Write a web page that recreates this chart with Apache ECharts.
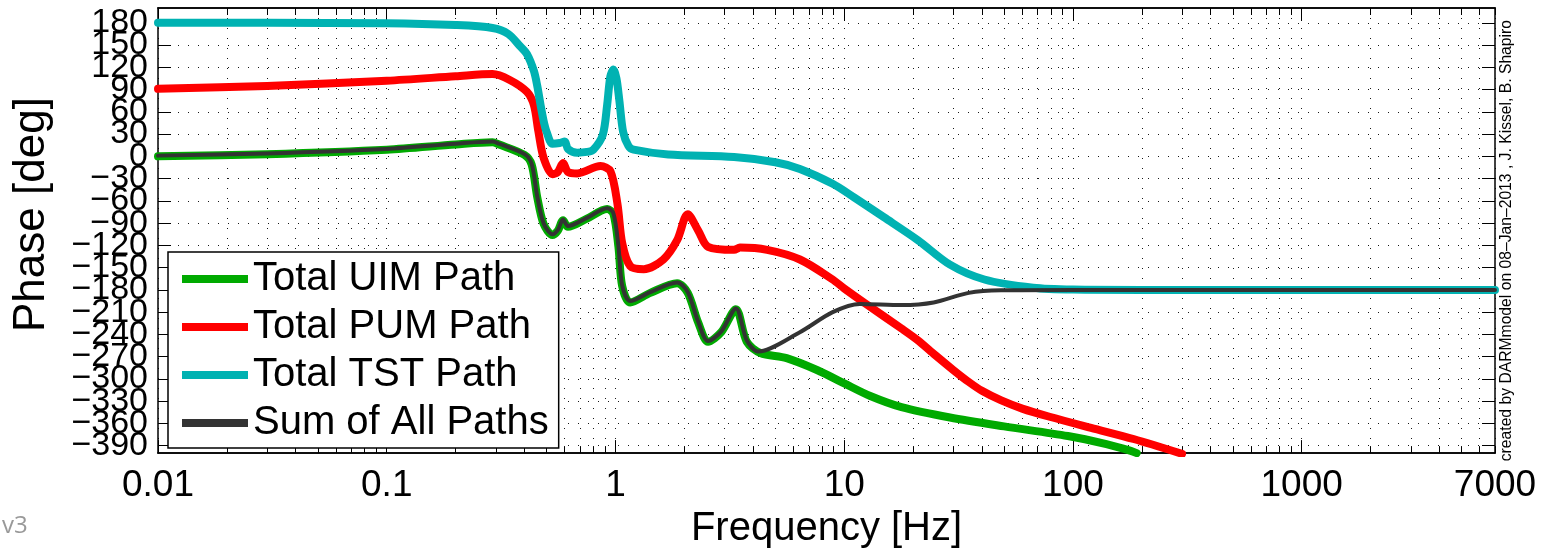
<!DOCTYPE html>
<html>
<head>
<meta charset="utf-8">
<script src="https://cdn.jsdelivr.net/npm/echarts@6/dist/echarts.min.js"></script>
<style>
html,body{margin:0;padding:0;background:#fff;}
#chart{width:1547px;height:554px;}
</style>
</head>
<body>
<div id="chart"></div>
<script>
// ---- Data (frequency in Hz, phase in degrees) ----
const freqUIM  = [0.01,0.03,0.1,0.2,0.29,0.31,0.4,0.43,0.455,0.485,0.53,0.56,0.59,0.62,0.75,0.92,0.98,1.03,1.07,1.16,1.42,1.86,2.07,2.3,2.54,2.9,3.36,3.75,4.3,5.6,7.6,10,13,17.8,29,50,95,140,179,190];
const phaseUIM = [0,3,9,16,19,16,2,-11,-55,-91,-106,-100,-86,-95,-84,-71,-78,-122,-175,-197,-184,-171,-184,-224,-250,-237,-206,-250,-265,-272,-288,-306,-323,-338,-352,-364,-377,-388,-397,-400];

const freqPUM  = [0.01,0.03,0.1,0.2,0.29,0.345,0.41,0.44,0.46,0.485,0.53,0.56,0.59,0.62,0.68,0.86,0.95,1.02,1.07,1.16,1.33,1.62,1.86,2.07,2.3,2.54,3.3,3.5,4.6,6.4,8.9,10,12.6,17.8,21,25,30,35,40,48.6,60,79,120,184,300];
const phasePUM = [91,95,102,108,111,103,87,69,34,-2,-24,-21,-9,-21,-23,-13,-20,-64,-117,-148,-152,-139,-113,-78,-100,-122,-126,-123,-126,-139,-166,-178,-200,-232,-248,-268,-288,-304,-316,-329,-340,-351,-366,-381,-401];

const freqTST  = [0.01,0.03,0.1,0.2,0.29,0.34,0.384,0.41,0.44,0.455,0.47,0.485,0.5,0.53,0.57,0.6,0.62,0.68,0.75,0.8,0.88,0.92,0.95,0.98,1.01,1.04,1.08,1.14,1.2,1.7,3.3,5,6.4,8.9,11,14.9,21,29,41,67,100,200,7000];
const phaseTST = [180,180,179.5,177,173,165,148,138,115,95,70,48,33,17,18,20,10,5,6,9,29,70,108,117,105,75,33,14,9,2.5,-1,-8,-17,-37,-55,-82,-113,-146,-166,-177,-179.5,-180,-180];

const freqSUM  = [0.01,0.03,0.1,0.2,0.29,0.31,0.4,0.43,0.455,0.485,0.53,0.56,0.59,0.62,0.75,0.92,0.98,1.03,1.07,1.16,1.42,1.86,2.07,2.3,2.54,2.9,3.36,3.75,4.2,6.4,8.9,11.7,17.8,24.6,35,48.6,100,7000];
const phaseSUM = [1,4,10,17,20,17,3,-10,-54,-90,-105,-99,-85,-94,-83,-70,-77,-121,-174,-195,-183,-170,-183,-223,-249,-236,-205,-248,-263,-237,-210,-199,-200.5,-197,-184,-180.5,-180,-180];

const seriesNames = ['Total UIM Path','Total PUM Path','Total TST Path','Sum of All Paths'];
const xLabelValues = [0.01,0.1,1,10,100,1000,7000];
const xMajorValues = [0.01,0.1,1,10,100,1000];
const yTickValues = [-390,-360,-330,-300,-270,-240,-210,-180,-150,-120,-90,-60,-30,0,30,60,90,120,150,180];
const yLabelsA = [-390,-330,-270,-210,-150,-90,-30,30,90,150];
const yLabelsB = [-360,-300,-240,-180,-120,-60,0,60,120,180];

const xMinorValues = [];
for (let d = -2; d <= 3; d++) {
  for (let m = 1; m <= 9; m++) {
    const v = +(m * Math.pow(10, d)).toPrecision(6);
    if (v <= 7000) xMinorValues.push(v);
  }
}

function pairs(xs, ys){ return xs.map((x,i)=>[x, ys[i]]); }

const FONT = 'Liberation Sans, Arial, Helvetica, sans-serif';
const dotted = {color:'#000', width:1, type:[1,9], opacity:0.9};
const yFmt = function(v){ return v < 0 ? '\u2212' + Math.abs(v) : String(v); };

const chart = echarts.init(document.getElementById('chart'), null, {renderer:'canvas'});

function xAxisBase(pos, isMajor, showLabels, showSplit){
  return {
    type:'log', logBase:10, min:0.01, max:7000, position:pos,
    gridIndex:0,
    axisLine:{show:true, onZero:false, lineStyle:{color:'#000', width:1.5}},
    axisTick:{show:true, inside:true, length:isMajor?13:7, customValues:isMajor?xMajorValues:xMinorValues, lineStyle:{color:'#000', width:1}},
    axisLabel:showLabels ? {show:true, customValues:xLabelValues, showMinLabel:true, showMaxLabel:true, fontSize:37, fontFamily:FONT, color:'#000', margin:14,
      formatter:function(v){ return String(+Number(v).toPrecision(6)); }} : {show:false},
    minorTick:{show:false},
    splitLine:showSplit ? {show:true, lineStyle:dotted} : {show:false},
    name: showLabels ? 'Frequency [Hz]' : '',
    nameLocation:'middle', nameGap:47,
    nameTextStyle:{fontSize:40, fontFamily:FONT, color:'#000'}
  };
}

function yLabelAxis(vals){
  return {
    type:'value', min:-400, max:200, position:'left', offset:0,
    axisLine:{show:false, onZero:false}, axisTick:{show:false}, splitLine:{show:false},
    axisLabel:{show:true, customValues:vals, showMinLabel:true, showMaxLabel:true, hideOverlap:false,
      fontSize:34, fontFamily:FONT, color:'#000', margin:10, formatter:yFmt}
  };
}

const option = {
  backgroundColor:'#fff',
  animation:false,
  grid:{left:158, right:52, top:8, bottom:94, containLabel:false},
  legend:{
    show:true, orient:'vertical', left:168, top:252,
    data:seriesNames,
    icon:'rect', itemWidth:66, itemHeight:8, itemGap:8,
    padding:[7,10,5,14],
    backgroundColor:'#fff', borderColor:'#000', borderWidth:1.5,
    textStyle:{fontSize:40, fontFamily:FONT, color:'#000', lineHeight:40}
  },
  xAxis:[
    xAxisBase('bottom', true, true, false),
    xAxisBase('bottom', false, false, true),
    xAxisBase('top', true, false, false),
    xAxisBase('top', false, false, false)
  ],
  yAxis:[
    {
      type:'value', min:-400, max:200, position:'left',
      axisLine:{show:true, onZero:false, lineStyle:{color:'#000', width:1.5}},
      axisTick:{show:true, inside:true, length:13, customValues:yTickValues, lineStyle:{color:'#000'}},
      axisLabel:{show:false},
      splitLine:{show:true, lineStyle:dotted},
      name:'Phase [deg]', nameLocation:'middle', nameRotate:90, nameGap:104,
      nameTextStyle:{fontSize:44, fontFamily:FONT, color:'#000', padding:[0,0,0,32]}
    },
    {
      type:'value', min:-400, max:200, position:'right',
      axisLine:{show:true, onZero:false, lineStyle:{color:'#000', width:1.5}},
      axisTick:{show:true, inside:true, length:13, customValues:yTickValues, lineStyle:{color:'#000'}},
      axisLabel:{show:false},
      splitLine:{show:false}
    },
    yLabelAxis(yLabelsA),
    yLabelAxis(yLabelsB)
  ],
  series:[
    {name:seriesNames[0], type:'line', data:pairs(freqUIM, phaseUIM), showSymbol:false, smooth:0.3, clip:true,
      itemStyle:{color:'#00aa00'}, lineStyle:{color:'#00aa00', width:8, cap:'round', join:'round'}, z:2},
    {name:seriesNames[1], type:'line', data:pairs(freqPUM, phasePUM), showSymbol:false, smooth:0.3, clip:true,
      itemStyle:{color:'#ff0000'}, lineStyle:{color:'#ff0000', width:8, cap:'round', join:'round'}, z:3},
    {name:seriesNames[2], type:'line', data:pairs(freqTST, phaseTST), showSymbol:false, smooth:0.3, clip:true,
      itemStyle:{color:'#00b2b2'}, lineStyle:{color:'#00b2b2', width:8, cap:'round', join:'round'}, z:4},
    {name:seriesNames[3], type:'line', data:pairs(freqSUM, phaseSUM), showSymbol:false, smooth:0.3, clip:true,
      itemStyle:{color:'#333333'}, lineStyle:{color:'#333333', width:4, cap:'round', join:'round'}, z:5}
  ],
  graphic:[
    {type:'text', left:1499, top:20, rotation:Math.PI/2, silent:true,
      style:{text:'created by DARMmodel on 08\u2013Jan\u20132013 , J. Kissel, B. Shapiro', fontSize:15.7, fontFamily:FONT, fill:'#000'}},
    {type:'text', left:2, top:514, silent:true,
      style:{text:'v3', fontSize:24, fontFamily:'Open Sans, sans-serif', fill:'#999'}}
  ]
};
chart.setOption(option);
</script>
</body>
</html>
